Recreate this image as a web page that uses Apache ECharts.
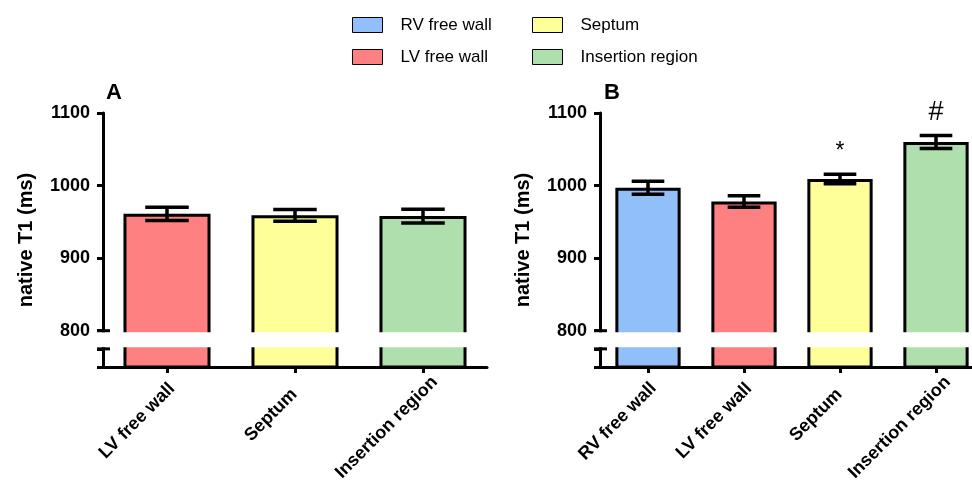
<!DOCTYPE html>
<html>
<head>
<meta charset="utf-8">
<script src="https://cdn.jsdelivr.net/npm/echarts@6/dist/echarts.min.js"></script>
<style>
html,body{margin:0;padding:0;background:#fff;}
#c{width:972px;height:482px;}
</style>
</head>
<body>
<div id="c"></div>
<script>
// ---- data ----
const regions = ['RV free wall', 'LV free wall', 'Septum', 'Insertion region'];
const regionColors = ['#90BFF9', '#FF8080', '#FFFF99', '#AEDFAC'];

const categoriesA = ['LV free wall', 'Septum', 'Insertion region'];
const meanA = [961, 959, 958];
const semA = [9, 8, 9.5];
const marksA = ['', '', ''];

const categoriesB = ['RV free wall', 'LV free wall', 'Septum', 'Insertion region'];
const meanB = [997, 978, 1009, 1060];
const semB = [9, 8, 6.5, 9];
const marksB = ['', '', '*', '#'];

const yTickLabels = [800, 900, 1000, 1100];
const axisMin = 750, axisMax = 1100;
const breakLow = 775, breakHigh = 800;

const FONT = "'Liberation Sans', Arial, Helvetica, sans-serif";
const chart = echarts.init(document.getElementById('c'));

function yAxisFor(gridIndex) {
  return {
    type: 'value', gridIndex: gridIndex, min: axisMin, max: axisMax,
    name: 'native T1 (ms)', nameLocation: 'middle', nameRotate: 90, nameGap: 67,
    nameTextStyle: {fontFamily: FONT, fontWeight: 'bold', fontSize: 20, color: '#000'},
    axisLine: {show: true, lineStyle: {color: '#000', width: 3}},
    axisTick: {show: true, length: 6, lineStyle: {color: '#000', width: 3},
      customValues: [axisMin, breakLow].concat(yTickLabels)},
    axisLabel: {fontFamily: FONT, fontWeight: 'bold', fontSize: 18, color: '#000', margin: 13,
      customValues: yTickLabels, formatter: v => String(v)},
    splitLine: {show: false}
  };
}
function xAxisFor(gridIndex, cats) {
  return {
    type: 'category', gridIndex: gridIndex, data: cats,
    axisLine: {show: true, lineStyle: {color: '#000', width: 3}},
    axisTick: {show: true, alignWithLabel: true, length: 6, lineStyle: {color: '#000', width: 3}},
    axisLabel: {rotate: 45, color: '#000', margin: 24, interval: 0,
      align: 'center', verticalAlign: 'middle', padding: [0, 35, 0, 0],
      formatter: v => '{a|' + v + '}{b|' + v + '}',
      rich: {
        a: {fontFamily: FONT, fontWeight: 'bold', fontSize: 18, color: '#000'},
        b: {fontFamily: FONT, fontWeight: 'bold', fontSize: 9, color: 'rgba(0,0,0,0)'}
      }}
  };
}
function barSeries(panelIdx, cats, means) {
  const out = [];
  regions.forEach((r, ri) => {
    const ci = cats.indexOf(r);
    if (ci < 0) return;
    const data = cats.map((c, i) => i === ci ? means[i] : '-');
    out.push({
      name: r, type: 'bar', xAxisIndex: panelIdx, yAxisIndex: panelIdx,
      data: data, barWidth: '68%', barGap: '-100%',
      itemStyle: {color: regionColors[ri], borderColor: '#000', borderWidth: 3},
      emphasis: {disabled: true}, z: 2
    });
  });
  return out;
}
function errSeries(panelIdx, means, sems, marks) {
  return {
    type: 'custom', xAxisIndex: panelIdx, yAxisIndex: panelIdx, z: 5,
    data: means.map((m, i) => [i, m, sems[i]]),
    renderItem: function (params, api) {
      const x = api.value(0), m = api.value(1), e = api.value(2);
      const top = api.coord([x, m + e]);
      const bot = api.coord([x, m - e]);
      const bw = api.size([1, 0])[0] * 0.68;
      const hw = bw * 0.25;
      const st = {stroke: '#000', lineWidth: 3.5};
      const children = [
        {type: 'line', shape: {x1: top[0], y1: top[1], x2: bot[0], y2: bot[1]}, style: st},
        {type: 'line', shape: {x1: top[0] - hw, y1: top[1], x2: top[0] + hw, y2: top[1]}, style: st},
        {type: 'line', shape: {x1: bot[0] - hw, y1: bot[1], x2: bot[0] + hw, y2: bot[1]}, style: st}
      ];
      const mk = marks[params.dataIndex];
      if (mk) {
        children.push({type: 'text', x: top[0], y: top[1] - 23,
          style: {text: mk, fill: '#000', font: (mk === '#' ? '27px ' : '23px ') + FONT,
            textAlign: 'center', textVerticalAlign: 'middle'}});
      }
      return {type: 'group', children: children};
    }
  };
}

const legendBase = {
  left: 352, top: 16, padding: 0, orient: 'vertical', itemWidth: 30, itemHeight: 15, itemGap: 14,
  icon: 'rect', itemStyle: {borderColor: '#000', borderWidth: 1}, selectedMode: false,
  textStyle: {fontFamily: FONT, fontSize: 17, color: '#000', lineHeight: 18, padding: [0, 0, 0, 13]}
};

const option = {
  animation: false,
  backgroundColor: '#fff',
  title: [
    {text: 'A', left: 106, top: 82, padding: 0, textStyle: {fontFamily: FONT, fontWeight: 'bold', fontSize: 22, color: '#000'}},
    {text: 'B', left: 604, top: 82, padding: 0, textStyle: {fontFamily: FONT, fontWeight: 'bold', fontSize: 22, color: '#000'}}
  ],
  legend: [
    Object.assign({}, legendBase, {data: [regions[0], regions[1]], left: 352}),
    Object.assign({}, legendBase, {data: [regions[2], regions[3]], left: 532})
  ],
  grid: [
    {left: 103, top: 113, width: 384, height: 254, containLabel: false, outerBoundsMode: 'none'},
    {left: 600, top: 113, width: 384, height: 254, containLabel: false, outerBoundsMode: 'none'}
  ],
  xAxis: [xAxisFor(0, categoriesA), xAxisFor(1, categoriesB)],
  yAxis: [yAxisFor(0), yAxisFor(1)],
  series: [].concat(
    barSeries(0, categoriesA, meanA),
    barSeries(1, categoriesB, meanB),
    [errSeries(0, meanA, semA, marksA), errSeries(1, meanB, semB, marksB)]
  )
};
chart.setOption(option);

// axis break: white band between breakLow and breakHigh, located via the axis scale,
// with short break marks crossing the axis at both edges
const bandEls = [];
[0, 1].forEach(i => {
  const rect = chart.getModel().getComponent('grid', i).coordinateSystem.getRect();
  const pHigh = chart.convertToPixel({yAxisIndex: i}, breakHigh);
  const pLow = chart.convertToPixel({yAxisIndex: i}, breakLow);
  bandEls.push({
    type: 'rect', z: 100,
    shape: {x: rect.x - 3, y: pHigh + 1.6, width: rect.width + 10, height: (pLow - pHigh) - 3.2},
    style: {fill: '#fff'}
  });
  [pHigh, pLow].forEach(p => {
    bandEls.push({
      type: 'line', z: 101,
      shape: {x1: rect.x - 6, y1: p, x2: rect.x + 7, y2: p},
      style: {stroke: '#000', lineWidth: 3}
    });
  });
});
chart.setOption({graphic: {elements: bandEls}});
</script>
</body>
</html>
